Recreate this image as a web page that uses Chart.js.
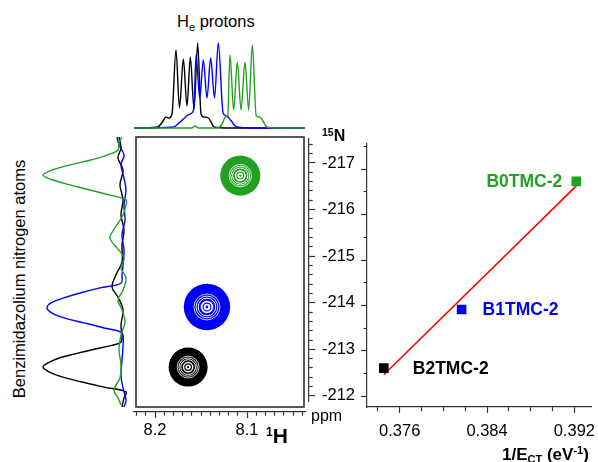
<!DOCTYPE html>
<html>
<head>
<meta charset="utf-8">
<title>HSQC projections vs 1/E_CT</title>
<script src="https://cdn.jsdelivr.net/npm/chart.js"></script>
<style>
  html, body { margin:0; padding:0; background:#fff; }
  #fig { position:relative; width:598px; height:462px; overflow:hidden; background:#fff;
         font-family:"Liberation Sans", Arial, Helvetica, sans-serif; color:#000; }
  #fig canvas { position:absolute; }
  .t { position:absolute; white-space:nowrap; line-height:1; }
</style>
</head>
<body>
<div id="fig">
  <canvas id="cTop"   width="171" height="93"  style="left:134px;top:38px"></canvas>
  <canvas id="cLeft"  width="93"  height="270" style="left:37px;top:137px"></canvas>
  <canvas id="cBox"   width="172" height="274" style="left:134px;top:135px"></canvas>
  <canvas id="cNaxis" width="60"  height="264" style="left:300px;top:138px"></canvas>
  <canvas id="cHaxis" width="191" height="50"  style="left:124px;top:402px"></canvas>
  <canvas id="cRight" width="241" height="310" style="left:357px;top:137px"></canvas>

  <div class="t" style="left:177px;top:13px;font-size:16.5px">H<span style="font-size:11px;position:relative;top:4px">e</span> protons</div>
  <div class="t" style="left:322px;top:128px;font-size:16px;font-weight:bold"><span style="font-size:10.5px;position:relative;top:-5px">15</span>N</div>
  <div class="t" style="left:311px;top:408px;font-size:16px">ppm</div>
  <div class="t" style="left:266px;top:425px;font-size:21px;font-weight:bold"><span style="font-size:12px;position:relative;top:-7px">1</span>H</div>
  <div class="t" style="left:502px;top:446px;font-size:17px;font-weight:bold">1/E<span style="font-size:11px;position:relative;top:3px">CT</span> (eV<span style="font-size:11px;position:relative;top:-6px">-1</span>)</div>
  <div class="t" style="left:19px;top:279px;font-size:16.5px;transform:translate(-50%,-50%) rotate(-90deg)">Benzimidazolium nitrogen atoms</div>
</div>
<script>
// ===================== DATA =====================
const compounds      = ['B2TMC-2', 'B1TMC-2', 'B0TMC-2'];
const compoundColors = ['#000000', '#0000ff', '#22a022'];
const invECT     = [0.37454, 0.38167, 0.39218];     // 1/E_CT (eV^-1)
const shiftN     = [-212.62, -213.91, -216.73];     // 15N chemical shift (ppm)
const shiftH     = [8.1640, 8.1435, 8.1073];        // 1H chemical shift (ppm)
const peakWidthH = [0.0212, 0.0252, 0.0218];        // outer contour half-width (1H ppm)

const nTicksMajor = [-217, -216, -215, -214, -213, -212];
const hTicksMajor = [8.2, 8.1];
const eTicksMajor = [0.376, 0.384, 0.392];

// 1H projection (He protons): [ppm, intensity]
const projH_B2 = [[8.2228,0],[8.1970,1],[8.1920,6],[8.1880,11],[8.1850,10],[8.1815,14],[8.1772,78],[8.1734,20],[8.1692,69],[8.1652,22],[8.1616,71],[8.1576,19],[8.1536,85],[8.1500,14],[8.1470,11],[8.1420,10],[8.1390,6],[8.1360,1],[8.1200,0],[8.0370,0]];
const projH_B1 = [[8.2228,0],[8.1800,1],[8.1740,5],[8.1680,10],[8.1640,13],[8.1600,15],[8.1575,22],[8.1554,73],[8.1514,30],[8.1475,68],[8.1435,30],[8.1395,70],[8.1353,30],[8.1312,85],[8.1260,15],[8.1220,12],[8.1180,8],[8.1110,1],[8.0900,0],[8.0370,0]];
const projH_B0 = [[8.2228,0],[8.1600,0],[8.1565,2],[8.1530,0],[8.1320,0],[8.1270,4],[8.1235,11],[8.1210,12],[8.1185,73],[8.1145,18],[8.1105,66],[8.1065,18],[8.1022,66],[8.0982,18],[8.0942,83],[8.0900,12],[8.0860,11],[8.0820,6],[8.0786,1],[8.0700,0],[8.0370,0]];

// 15N projection (benzimidazolium nitrogen atoms): [intensity, ppm]
const projN_B2 = [[3,-217.56],[1,-217.32],[4,-217.11],[-1,-216.85],[2,-216.53],[-1,-216.21],[1,-215.88],[-2,-215.56],[0,-215.24],[0,-214.88],[6,-214.60],[10,-214.34],[4,-214.12],[-1,-213.85],[1,-213.52],[0,-213.24],[2,-213.14],[22,-213.03],[44,-212.92],[62,-212.82],[74,-212.71],[79,-212.62],[73,-212.52],[60,-212.41],[40,-212.30],[18,-212.19],[-4,-212.09],[-2,-211.96],[0,-211.76]];
const projN_B1 = [[5,-217.56],[3,-217.39],[-2,-217.17],[1,-216.96],[-2,-216.68],[-4,-216.42],[-2,-216.10],[-3,-215.78],[0,-215.45],[-2,-215.13],[-1,-214.81],[0,-214.60],[1,-214.42],[22,-214.32],[42,-214.21],[59,-214.10],[71,-214.00],[75,-213.89],[70,-213.78],[57,-213.67],[38,-213.57],[18,-213.46],[0,-213.35],[-1,-213.09],[0,-212.77],[1,-212.45],[-1,-212.17],[-4,-211.91],[-2,-211.76]];
const projN_B0 = [[0,-217.56],[3,-217.43],[4,-217.28],[15,-217.17],[32,-217.06],[52,-216.96],[70,-216.85],[79,-216.74],[70,-216.64],[52,-216.53],[32,-216.42],[12,-216.31],[-4,-216.21],[-4,-216.10],[-1,-215.88],[7,-215.61],[12,-215.39],[5,-215.18],[-2,-214.96],[1,-214.75],[-4,-214.53],[-1,-214.27],[4,-214.06],[0,-213.85],[-3,-213.59],[1,-213.31],[3,-212.99],[1,-212.67],[2,-212.39],[8,-212.13],[4,-211.96],[1,-211.81]];

// ===================== STYLE / LAYOUT =====================
const FONT = '"Liberation Sans", Arial, Helvetica, sans-serif';
Chart.defaults.font.family = FONT;
Chart.defaults.color = '#000';
const AXIS = '#333';

const H_RANGE_AXIS = [8.03696, 8.22283];   // top projection & 1H axis
const H_RANGE_BOX  = [8.03804, 8.22065];   // 2D box
const N_RANGE      = [-217.558, -211.764]; // box, left projection, right plot
const N_RANGE_AXIS = [-217.536, -211.87];  // 15N axis
const E_RANGE      = [0.37300, 0.393545];

const near = (v, list) => list.some(m => Math.abs(v - m) < 1e-6);
const minorN = []; for (let i = -2174; i <= -2120; i += 2) minorN.push(i / 10);
const minorH = []; for (let i = 804; i <= 822; i++) minorH.push(i / 100);
const minorE = []; for (let i = 374; i <= 392; i += 2) minorE.push(i / 1000);
const minorR = []; for (let i = -2175; i <= -2120; i += 5) minorR.push(i / 10);

const baseOpts = () => ({
  responsive: false, maintainAspectRatio: false, animation: false, events: [],
  devicePixelRatio: 1, layout: { padding: 0 },
  plugins: { legend: { display: false }, tooltip: { enabled: false } }
});
const hidden = (r, reverse) => ({ type: 'linear', display: false, min: r[0], max: r[1], reverse });

function lineDS(arr, color, smooth) {
  return {
    data: arr.map(p => ({ x: p[0], y: p[1] })),
    showLine: true, borderColor: color, borderWidth: 1.4, pointRadius: 0, fill: false,
    ...(smooth === 'mono' ? { cubicInterpolationMode: 'monotone' } : { tension: 0.35 })
  };
}

// ---------- top projection ----------
new Chart(document.getElementById('cTop'), {
  type: 'scatter',
  data: { datasets: [
    lineDS(projH_B0, compoundColors[2], 'mono'),
    lineDS(projH_B1, compoundColors[1], 'mono'),
    lineDS(projH_B2, compoundColors[0], 'mono')
  ]},
  options: { ...baseOpts(), scales: { x: hidden(H_RANGE_AXIS, true), y: hidden([-3, 90], false) } }
});

// ---------- left projection ----------
new Chart(document.getElementById('cLeft'), {
  type: 'scatter',
  data: { datasets: [
    lineDS(projN_B0, compoundColors[2], 'tension'),
    lineDS(projN_B1, compoundColors[1], 'tension'),
    lineDS(projN_B2, compoundColors[0], 'tension')
  ]},
  options: { ...baseOpts(), scales: { x: hidden([-8, 85], true), y: hidden(N_RANGE, true) } }
});

// ---------- 2D contour box ----------
const contourLevels = [
  { f: 1.00, fill: 'peak',    stroke: null,      w: 0 },
  { f: 0.56, fill: null,      stroke: '#ffffff', w: 0.8 },
  { f: 0.47, fill: null,      stroke: '#ffffff', w: 0.9 },
  { f: 0.38, fill: null,      stroke: '#ffffff', w: 1.0 },
  { f: 0.27, fill: '#ffffff', stroke: null,      w: 0 },
  { f: 0.17, fill: null,      stroke: 'peak',    w: 1.2 },
  { f: 0.06, fill: 'peak',    stroke: null,      w: 0 }
];
const peakPts = shiftH.map((h, i) => ({ x: h, y: shiftN[i] }));
const widthPx = ctx => {
  const sx = ctx.chart.scales.x, i = ctx.dataIndex;
  return Math.abs(sx.getPixelForValue(shiftH[i] + peakWidthH[i]) - sx.getPixelForValue(shiftH[i]));
};
const pick = (c, i) => c === 'peak' ? compoundColors[i] : c;
const boxFrame = {
  id: 'boxFrame',
  afterDraw(chart) {
    const a = chart.chartArea, c = chart.ctx;
    c.save(); c.strokeStyle = '#222'; c.lineWidth = 1.5;
    c.strokeRect(a.left, a.top, a.right - a.left, a.bottom - a.top);
    c.restore();
  }
};
new Chart(document.getElementById('cBox'), {
  type: 'scatter',
  data: { datasets: contourLevels.map((lv, k) => ({
    data: peakPts,
    order: contourLevels.length - k,
    pointStyle: 'circle',
    pointRadius: ctx => lv.f * widthPx(ctx),
    pointBackgroundColor: ctx => lv.fill ? pick(lv.fill, ctx.dataIndex) : 'rgba(0,0,0,0)',
    pointBorderColor: ctx => lv.stroke ? pick(lv.stroke, ctx.dataIndex) : 'rgba(0,0,0,0)',
    pointBorderWidth: lv.w
  }))},
  options: { ...baseOpts(), layout: { padding: 2 },
    scales: { x: hidden(H_RANGE_BOX, true), y: hidden(N_RANGE, true) } },
  plugins: [boxFrame]
});

// ---------- 15N axis ----------
new Chart(document.getElementById('cNaxis'), {
  type: 'scatter', data: { datasets: [] },
  options: { ...baseOpts(), scales: {
    x: { display: false, min: 0, max: 1 },
    y: { type: 'linear', position: 'right', min: N_RANGE_AXIS[0], max: N_RANGE_AXIS[1], reverse: true,
      afterBuildTicks: s => { s.ticks = minorN.map(v => ({ value: v })); },
      afterFit: s => { s.width = 51; s.paddingTop = 0; s.paddingBottom = 0; },
      ticks: { autoSkip: false, padding: 7, font: { size: 16.5 }, color: '#000',
        callback: v => near(v, nTicksMajor) ? String(Math.round(v)) : '' },
      grid: { drawOnChartArea: false, tickLength: 6, tickColor: AXIS, tickWidth: 1.2,
        tickBorderDash: ctx => near(ctx.tick.value, nTicksMajor) ? [] : [3.5, 30] },
      border: { display: true, color: AXIS, width: 1.2 }
    }
  }}
});

// ---------- 1H axis ----------
new Chart(document.getElementById('cHaxis'), {
  type: 'scatter', data: { datasets: [] },
  options: { ...baseOpts(), layout: { padding: { left: 10, right: 10, top: 0, bottom: 0 } }, scales: {
    y: { display: false, min: 0, max: 1 },
    x: { type: 'linear', position: 'bottom', min: H_RANGE_AXIS[0], max: H_RANGE_AXIS[1], reverse: true,
      afterBuildTicks: s => { s.ticks = minorH.map(v => ({ value: v })); },
      afterFit: s => { s.height = 40; s.paddingLeft = 0; s.paddingRight = 0; },
      ticks: { autoSkip: false, maxRotation: 0, padding: 3, font: { size: 16.5 }, color: '#000',
        callback: v => near(v, hTicksMajor) ? v.toFixed(1) : '' },
      grid: { drawOnChartArea: false, tickLength: 6, tickColor: AXIS, tickWidth: 1.2,
        tickBorderDash: ctx => near(ctx.tick.value, hTicksMajor) ? [] : [3.5, 30] },
      border: { display: true, color: AXIS, width: 1.2 }
    }
  }}
});

// ---------- right plot: 15N shift vs 1/E_CT ----------
const mean = a => a.reduce((s, v) => s + v, 0) / a.length;
const mx = mean(invECT), my = mean(shiftN);
let sxy = 0, sxx = 0;
invECT.forEach((x, i) => { sxy += (x - mx) * (shiftN[i] - my); sxx += (x - mx) * (x - mx); });
const slope = sxy / sxx, icpt = my - slope * mx;
const xFit = [Math.min(...invECT), Math.max(...invECT)];
const fitPts = xFit.map(x => ({ x, y: icpt + slope * x }));

const labelStyle = [ { dx: 29, align: 'left' }, { dx: 21, align: 'left' }, { dx: -14, align: 'right' } ];
const pointLabels = {
  id: 'pointLabels',
  afterDatasetsDraw(chart) {
    const meta = chart.getDatasetMeta(0), c = chart.ctx;
    c.save(); c.font = 'bold 17.5px ' + FONT; c.textBaseline = 'middle';
    meta.data.forEach((el, i) => {
      c.fillStyle = compoundColors[i]; c.textAlign = labelStyle[i].align;
      c.fillText(compounds[i], el.x + labelStyle[i].dx, el.y + 1);
    });
    c.restore();
  }
};
new Chart(document.getElementById('cRight'), {
  type: 'scatter',
  data: { datasets: [
    { data: invECT.map((x, i) => ({ x, y: shiftN[i] })), pointStyle: 'rect', pointRadius: 6.8,
      pointBackgroundColor: compoundColors, pointBorderWidth: 0, showLine: false },
    { data: fitPts, showLine: true, borderColor: '#ff0000', borderWidth: 1.6, pointRadius: 0 }
  ]},
  options: { ...baseOpts(), layout: { padding: { left: 0, right: 5, top: 0, bottom: 0 } }, scales: {
    x: { type: 'linear', position: 'bottom', min: E_RANGE[0], max: E_RANGE[1],
      afterBuildTicks: s => { s.ticks = minorE.map(v => ({ value: v })); },
      afterFit: s => { s.height = 40; s.paddingLeft = 0; s.paddingRight = 0; },
      ticks: { autoSkip: false, maxRotation: 0, padding: 9, font: { size: 16.5 }, color: '#000',
        callback: v => near(v, eTicksMajor) ? v.toFixed(3) : '' },
      grid: { drawOnChartArea: false, tickLength: 6, tickColor: AXIS, tickWidth: 1.2,
        tickBorderDash: ctx => near(ctx.tick.value, eTicksMajor) ? [] : [4, 30] },
      border: { display: true, color: AXIS, width: 1.2 }
    },
    y: { type: 'linear', position: 'left', min: N_RANGE[0], max: N_RANGE[1], reverse: true,
      afterBuildTicks: s => { s.ticks = minorR.map(v => ({ value: v })); },
      afterFit: s => { s.width = 10; s.paddingTop = 0; s.paddingBottom = 0; },
      ticks: { display: false },
      grid: { drawOnChartArea: false, tickLength: 6, tickColor: AXIS, tickWidth: 1.2,
        tickBorderDash: ctx => near(ctx.tick.value, nTicksMajor) ? [] : [0, 2.5, 3.5, 30] },
      border: { display: true, color: AXIS, width: 1.2 }
    }
  }},
  plugins: [pointLabels]
});
</script>
</body>
</html>
